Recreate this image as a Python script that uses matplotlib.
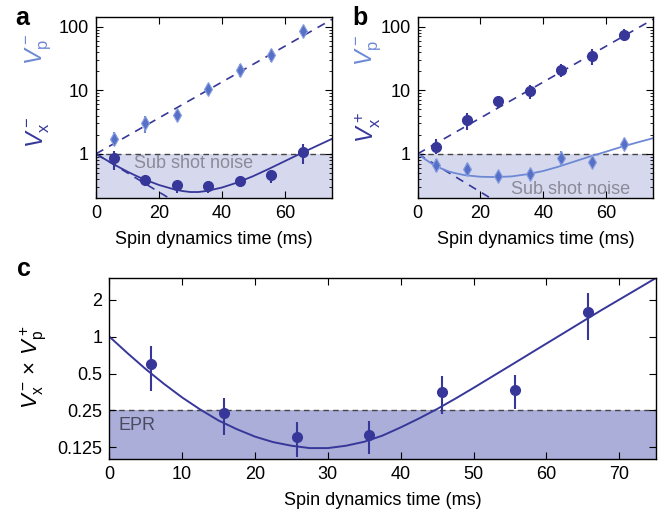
import numpy as np
import matplotlib.pyplot as plt
from matplotlib.ticker import LogLocator, NullFormatter, NullLocator

plt.rcParams['font.family'] = ['Liberation Sans', 'DejaVu Sans']
plt.rcParams['mathtext.fontset'] = 'custom'
plt.rcParams['mathtext.rm'] = 'Liberation Sans'
plt.rcParams['mathtext.it'] = 'Liberation Sans:italic'

# measurement times (ms)
t_pts = [5.7, 15.7, 25.7, 35.7, 45.7, 55.7, 65.7]

# panel a
a_vx = [0.845, 0.39, 0.319, 0.311, 0.378, 0.463, 1.06]
a_vx_lo = [0.55, 0.32, 0.245, 0.245, 0.32, 0.35, 0.70]
a_vx_hi = [1.10, 0.47, 0.38, 0.37, 0.43, 0.55, 1.43]
a_vp = [1.74, 3.06, 4.03, 10.3, 20.7, 36.0, 85.5]
a_vp_lo = [1.32, 2.13, 3.45, 8.5, 15.9, 28.0, 70.0]
a_vp_hi = [2.2, 4.0, 4.8, 12.5, 25.6, 44.8, 103.0]

# panel b
b_vx = [1.29, 3.37, 6.68, 9.59, 20.5, 34.7, 74.0]
b_vx_lo = [0.98, 2.4, 5.3, 7.4, 16.0, 25.0, 60.0]
b_vx_hi = [1.68, 4.4, 8.0, 12.2, 25.6, 44.8, 92.0]
b_vp = [0.664, 0.568, 0.447, 0.474, 0.865, 0.74, 1.43]
b_vp_lo = [0.52, 0.45, 0.37, 0.40, 0.66, 0.64, 1.17]
b_vp_hi = [0.815, 0.72, 0.52, 0.55, 1.10, 0.87, 1.78]

# panel c
c_prod = [0.598, 0.239, 0.151, 0.157, 0.355, 0.369, 1.60]
c_lo = [0.36, 0.159, 0.104, 0.111, 0.232, 0.255, 0.94]
c_hi = [0.83, 0.317, 0.202, 0.206, 0.477, 0.486, 2.26]

# theory curves
a_fit_t = [0, 2.5, 5, 7.5, 10, 12.5, 15, 20, 25, 27.5, 30, 32.5, 35, 40, 45, 50, 55, 60, 65, 70, 75]
a_fit = [1.0, 0.841, 0.716, 0.61, 0.525, 0.457, 0.403, 0.324, 0.275, 0.26, 0.251, 0.251, 0.26, 0.295, 0.355, 0.447, 0.582, 0.767, 1.01, 1.32, 1.72]
b_fit_t = [0, 2.5, 5, 7.5, 10, 12.5, 15, 20, 25, 30, 35, 40, 45, 50, 55, 60, 65, 70, 75]
b_fit = [1.0, 0.813, 0.676, 0.589, 0.525, 0.49, 0.462, 0.436, 0.431, 0.442, 0.479, 0.537, 0.631, 0.759, 0.912, 1.08, 1.29, 1.51, 1.76]
c_fit_t = [0, 2.5, 5, 7.5, 10, 12.5, 15, 17.5, 20, 22.5, 25, 27.5, 30, 32.5, 35, 37.5,
	40, 42.5, 45, 47.5, 50, 52.5, 55, 57.5, 60, 62.5, 65, 67.5, 70, 72.5, 75]
c_fit = [1.0, 0.732, 0.543, 0.412, 0.319, 0.254, 0.207, 0.176, 0.153, 0.138, 0.129, 0.1234, 0.1234, 0.129, 0.139, 0.156,
	0.182, 0.215, 0.257, 0.312, 0.382, 0.470, 0.578, 0.712, 0.877, 1.079, 1.329, 1.636, 2.0, 2.445, 2.99]

dash_up_t = [0, 75]
dash_up = [1.0, 130.0]
dash_dn_t = [0, 25]
dash_dn = [1.0, 0.178]

dark = '#37379a'
light = '#6d89d4'
light_fill = '#d6d9ee'
epr_fill = '#aaaed8'

def errs(v, lo, hi):
	v = np.array(v)
	return [v-np.array(lo), np.array(hi)-v]

def style(ax):
	ax.tick_params(direction='in', top=True, right=True, which='both', labelsize=13, pad=5)
	ax.tick_params(which='major', length=5)
	ax.tick_params(which='minor', length=2.5)
	for s in ax.spines.values():
		s.set_linewidth(1.0)

def top_panel(ax, vx, vx_lo, vx_hi, vp, vp_lo, vp_hi, fit_t, fit, fit_col, text_x, text_y):
	ax.set_yscale('log')
	ax.set_xlim(0, 75)
	ax.set_ylim(0.2, 140)
	ax.axhspan(0.2, 1, color=light_fill, lw=0, zorder=0)
	ax.axhline(1, color='#444444', lw=1.0, ls=(0, (4, 3)), zorder=1)
	ax.plot(dash_up_t, dash_up, color=dark, lw=1.2, ls=(0, (5, 4)), zorder=2)
	ax.plot(dash_dn_t, dash_dn, color=dark, lw=1.2, ls=(0, (5, 4)), zorder=2)
	ax.plot(fit_t, fit, color=fit_col, lw=1.3, zorder=2)
	ax.errorbar(t_pts, vx, yerr=errs(vx, vx_lo, vx_hi), fmt='o', ms=7, color=dark, elinewidth=1.5, capsize=0, zorder=3)
	ax.errorbar(t_pts, vp, yerr=errs(vp, vp_lo, vp_hi), fmt='d', ms=7.5, color='#5670c8', mec='#8aa0e0', mew=0.8, ecolor=light, elinewidth=1.5, capsize=0, zorder=3)
	ax.text(text_x, text_y, 'Sub shot noise', color='#8a8a98', fontsize=13, ha='center', va='center', zorder=2)
	ax.set_xticks([0, 20, 40, 60])
	ax.set_yticks([1, 10, 100])
	ax.set_yticklabels(['1', '10', '100'])
	ax.yaxis.set_minor_locator(LogLocator(subs=range(2, 10)))
	ax.yaxis.set_minor_formatter(NullFormatter())
	ax.set_xlabel('Spin dynamics time (ms)', fontsize=13, labelpad=6)
	style(ax)

def main():
	fig = plt.figure(figsize=(6.62, 5.11), dpi=100)
	W, H = 662, 511

	axa = fig.add_axes([96/W, 1-198.3/H, 236/W, 181/H])
	top_panel(axa, a_vx, a_vx_lo, a_vx_hi, a_vp, a_vp_lo, a_vp_hi, a_fit_t, a_fit, dark, 31, 0.70)
	axb = fig.add_axes([417.7/W, 1-198.3/H, 235.3/W, 181/H])
	top_panel(axb, b_vx, b_vx_lo, b_vx_hi, b_vp, b_vp_lo, b_vp_hi, b_fit_t, b_fit, light, 48.8, 0.276)

	# panel c
	axc = fig.add_axes([109.3/W, 1-459.3/H, 546.4/W, 181.3/H])
	axc.set_yscale('log', base=2)
	axc.set_xlim(0, 75)
	axc.set_ylim(0.1, 3)
	axc.axhspan(0.1, 0.25, color=epr_fill, lw=0, zorder=0)
	axc.axhline(0.25, color='#444444', lw=1.0, ls=(0, (4, 3)), zorder=1)
	axc.plot(c_fit_t, c_fit, color=dark, lw=1.4, zorder=2)
	axc.errorbar(t_pts, c_prod, yerr=errs(c_prod, c_lo, c_hi), fmt='o', ms=7, color=dark, elinewidth=1.5, capsize=0, zorder=3)
	axc.text(1.2, 0.187, 'EPR', color='#4a4a60', fontsize=13, ha='left', va='center')
	axc.set_xticks(range(0, 71, 10))
	axc.set_yticks([0.125, 0.25, 0.5, 1, 2])
	axc.set_yticklabels(['0.125', '0.25', '0.5', '1', '2'])
	axc.yaxis.set_minor_locator(NullLocator())
	axc.set_xlabel('Spin dynamics time (ms)', fontsize=13, labelpad=6)
	style(axc)

	# y labels
	fig.text(38/W, 1-49/H, r'$V_\mathrm{p}^-$', color=light, fontsize=17, rotation=90, ha='center', va='center')
	fig.text(38/W, 1-132/H, r'$V_\mathrm{x}^-$', color=dark, fontsize=17, rotation=90, ha='center', va='center')
	fig.text(368/W, 1-50/H, r'$V_\mathrm{p}^-$', color=light, fontsize=17, rotation=90, ha='center', va='center')
	fig.text(368/W, 1-128/H, r'$V_\mathrm{x}^+$', color=dark, fontsize=17, rotation=90, ha='center', va='center')
	fig.text(33/W, 1-367/H, r'$V_\mathrm{x}^-\times\,V_\mathrm{p}^+$', color='black', fontsize=16, rotation=90, ha='center', va='center')

	# panel letters
	fig.text(15/W, 1-18/H, 'a', fontsize=18, weight='bold', va='center')
	fig.text(352/W, 1-18/H, 'b', fontsize=18, weight='bold', va='center')
	fig.text(17/W, 1-269/H, 'c', fontsize=18, weight='bold', va='center')

	plt.savefig('out.png', dpi=100)
	plt.close()

if __name__ == '__main__':
	main()
